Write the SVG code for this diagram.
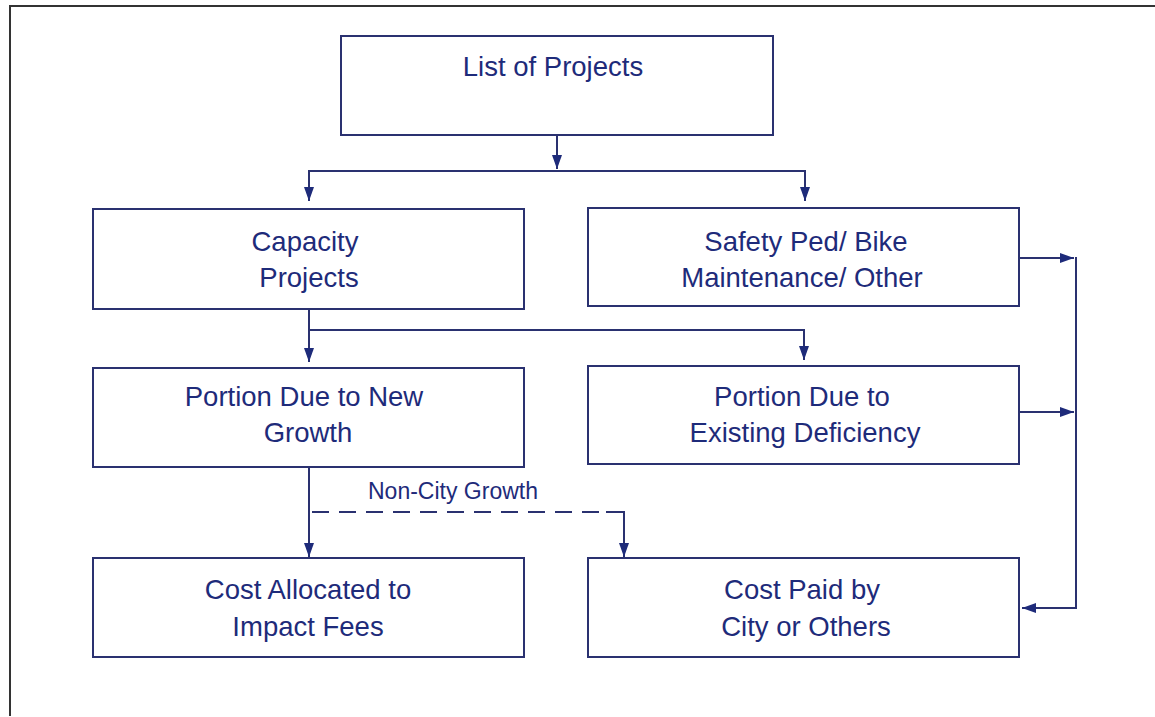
<svg xmlns="http://www.w3.org/2000/svg" width="1155" height="717" viewBox="0 0 1155 717">
<style>
.box{fill:#fff;stroke:#2a3170;stroke-width:2}
.t{font-family:"Liberation Sans",Arial,sans-serif;font-size:27.5px;fill:#1e2b7a;text-anchor:middle}
.lbl{font-family:"Liberation Sans",Arial,sans-serif;font-size:23px;fill:#1e2b7a}
.c{fill:none;stroke:#2a3170;stroke-width:2}
.d{fill:none;stroke:#2a3170;stroke-width:2;stroke-dasharray:17,10}
</style>
<defs>
<marker id="ah" viewBox="0 0 14 10" refX="14" refY="5" markerWidth="14" markerHeight="10" markerUnits="userSpaceOnUse" orient="auto"><path d="M0,0 L14,5 L0,10 z" fill="#1e2b7a"/></marker>
</defs>
<rect width="1155" height="717" fill="#fff"/>
<path d="M10,716 V6 H1155" fill="none" stroke="#333" stroke-width="2"/>
<g id="connectors">
<path class="c" d="M557,135 V169" marker-end="url(#ah)"/>
<path class="c" d="M557,171 H309 V201" marker-end="url(#ah)"/>
<path class="c" d="M557,171 H805 V201" marker-end="url(#ah)"/>
<path class="c" d="M309,309 V362" marker-end="url(#ah)"/>
<path class="c" d="M309,330 H804 V360" marker-end="url(#ah)"/>
<path class="c" d="M309,467 V557" marker-end="url(#ah)"/>
<path class="d" d="M312,512 H612"/>
<path class="c" d="M606,512 H624 V557" marker-end="url(#ah)"/>
<path class="c" d="M1019,258 H1074" marker-end="url(#ah)"/>
<path class="c" d="M1019,412 H1074" marker-end="url(#ah)"/>
<path class="c" d="M1076,257 V608 H1022" marker-end="url(#ah)"/>
<text class="lbl" x="368" y="499">Non-City Growth</text>
</g>
<g id="list">
<rect class="box" x="341" y="36" width="432" height="99"/>
<text class="t" x="553" y="76">List of Projects</text>
</g>
<g id="capacity">
<rect class="box" x="93" y="209" width="431" height="100"/>
<text class="t" x="305" y="251">Capacity</text>
<text class="t" x="309" y="287">Projects</text>
</g>
<g id="safety">
<rect class="box" x="588" y="208" width="431" height="98"/>
<text class="t" x="806" y="251">Safety Ped/ Bike</text>
<text class="t" x="802" y="287">Maintenance/ Other</text>
</g>
<g id="newgrowth">
<rect class="box" x="93" y="368" width="431" height="99"/>
<text class="t" x="304" y="406">Portion Due to New</text>
<text class="t" x="308" y="442">Growth</text>
</g>
<g id="existing">
<rect class="box" x="588" y="366" width="431" height="98"/>
<text class="t" x="802" y="406">Portion Due to</text>
<text class="t" x="805" y="442">Existing Deficiency</text>
</g>
<g id="impact">
<rect class="box" x="93" y="558" width="431" height="99"/>
<text class="t" x="308" y="599">Cost Allocated to</text>
<text class="t" x="308" y="636">Impact Fees</text>
</g>
<g id="city">
<rect class="box" x="588" y="558" width="431" height="99"/>
<text class="t" x="802" y="599">Cost Paid by</text>
<text class="t" x="806" y="636">City or Others</text>
</g>
</svg>
